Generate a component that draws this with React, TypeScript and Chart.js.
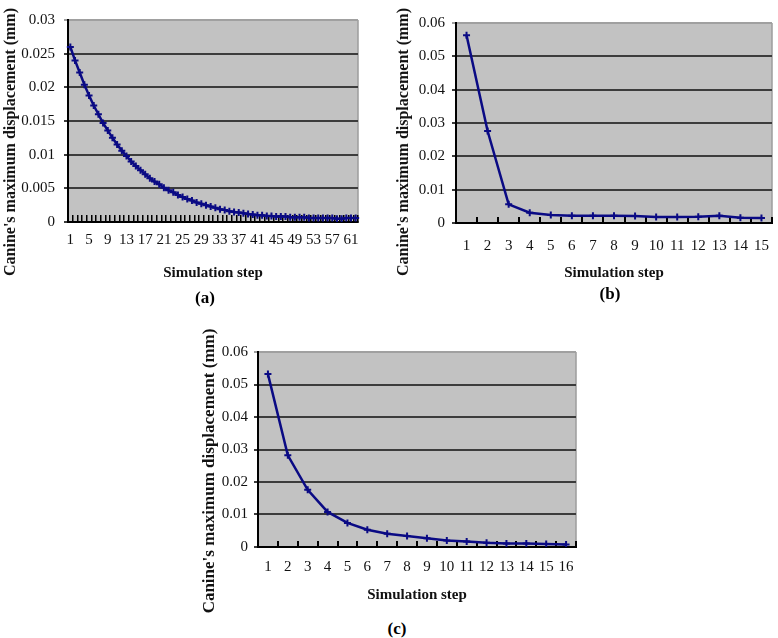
import React, { useEffect, useRef } from "react";
import { Chart, registerables } from "chart.js";

Chart.register(...registerables);

// ---- data ----
const valuesA: number[] = [
  0.026, 0.024, 0.0222, 0.0204, 0.0188, 0.0173, 0.016, 0.0147, 0.0136, 0.0125,
  0.0115, 0.0106, 0.0098, 0.009, 0.0083, 0.0077, 0.0071, 0.0065, 0.006, 0.0056,
  0.0051, 0.0047, 0.0044, 0.004, 0.0037, 0.0034, 0.0032, 0.0029, 0.0027, 0.0025,
  0.0023, 0.0021, 0.0019, 0.0018, 0.0016, 0.0015, 0.0014, 0.0013, 0.0012, 0.0011,
  0.001, 0.001, 0.0009, 0.0009, 0.0008, 0.0008, 0.0008, 0.0007, 0.0007, 0.0007,
  0.0007, 0.0006, 0.0006, 0.0006, 0.0006, 0.0006, 0.0006, 0.0005, 0.0005, 0.0006,
  0.0006, 0.0006,
];
const valuesB: number[] = [
  0.0563, 0.0276, 0.0056, 0.0031, 0.0024, 0.0022, 0.0022, 0.0022, 0.0021, 0.0018,
  0.0018, 0.0019, 0.0022, 0.0016, 0.0015,
];
const valuesC: number[] = [
  0.0532, 0.0282, 0.0176, 0.0108, 0.0074, 0.0053, 0.0041, 0.0034, 0.0027, 0.002,
  0.0017, 0.0013, 0.0011, 0.0011, 0.0009, 0.0008,
];
const stepsA: string[] = valuesA.map((_, i) => String(i + 1));
const stepsB: string[] = valuesB.map((_, i) => String(i + 1));
const stepsC: string[] = valuesC.map((_, i) => String(i + 1));

const yMaxA = 0.03;
const yStepA = 0.005;
const yMaxBC = 0.06;
const yStepBC = 0.01;

const xTitle = "Simulation step";
const yTitle = "Canine's maximum displacement (mm)";

const NAVY = "#0a0a84";
const PLOT_BG = "#c2c2c2";

const bgPlugin = {
  id: "plotBg",
  beforeDraw(chart: any) {
    const { ctx, chartArea } = chart;
    if (!chartArea) return;
    ctx.save();
    ctx.fillStyle = PLOT_BG;
    ctx.fillRect(chartArea.left, chartArea.top, chartArea.right - chartArea.left, chartArea.bottom - chartArea.top);
    ctx.strokeStyle = "#9c9c9c";
    ctx.lineWidth = 1.5;
    ctx.beginPath();
    ctx.moveTo(chartArea.right, chartArea.top);
    ctx.lineTo(chartArea.right, chartArea.bottom);
    ctx.stroke();
    ctx.restore();
  },
};

type PanelProps = {
  left: number;
  top: number;
  width: number;
  height: number;
  labels: string[];
  values: number[];
  yMax: number;
  yStep: number;
  labelEvery: number;
  padTop: number;
  padRight: number;
  yWidth: number;
  xHeight: number;
  xTickLen: number;
  xTickWidth: number;
  xLabelPad: number;
  xTitlePadBottom: number;
  yLabelPad: number;
};

function Panel(p: PanelProps) {
  const ref = useRef<HTMLCanvasElement | null>(null);
  useEffect(() => {
    if (!ref.current) return;
    const tickFont = { family: "'Liberation Serif', serif", size: 15 };
    const chart = new Chart(ref.current, {
      type: "line",
      data: {
        labels: p.labels,
        datasets: [
          {
            data: p.values,
            borderColor: NAVY,
            backgroundColor: NAVY,
            borderWidth: 2.5,
            pointStyle: "cross",
            pointRadius: 3.5,
            pointBorderWidth: 2,
            pointBorderColor: NAVY,
            tension: 0,
            fill: false,
          },
        ],
      },
      options: {
        responsive: false,
        maintainAspectRatio: false,
        animation: false,
        layout: { padding: { top: p.padTop, right: p.padRight, left: 0, bottom: 0 } },
        plugins: { legend: { display: false }, tooltip: { enabled: false } },
        scales: {
          x: {
            type: "category",
            offset: true,
            grid: {
              offset: true,
              drawOnChartArea: false,
              drawTicks: true,
              tickLength: -p.xTickLen,
              color: "#000",
              lineWidth: p.xTickWidth,
            },
            border: { display: true, color: "#000", width: 2 },
            ticks: {
              autoSkip: false,
              maxRotation: 0,
              minRotation: 0,
              padding: p.xLabelPad,
              color: "#111",
              font: tickFont,
              callback: (_v: any, i: number) => (i % p.labelEvery === 0 ? p.labels[i] : ""),
            },
            title: {
              display: true,
              text: xTitle,
              color: "#111",
              font: { family: "'Liberation Serif', serif", size: 15, weight: "bold" },
              padding: { top: 0, bottom: p.xTitlePadBottom },
            },
            afterFit: (s: any) => {
              s.height = p.xHeight;
              s.paddingLeft = 0;
              s.paddingRight = 0;
            },
          },
          y: {
            min: 0,
            max: p.yMax,
            grid: {
              color: (c: any) => (c.tick && Math.abs(c.tick.value - p.yMax) < 1e-9 ? "#a0a0a0" : "#3c3c3c"),
              lineWidth: 2,
              tickLength: 4,
            },
            border: { display: true, color: "#000", width: 2 },
            ticks: {
              stepSize: p.yStep,
              padding: p.yLabelPad,
              color: "#111",
              font: tickFont,
              callback: (v: any) => String(Number(Number(v).toFixed(4))),
            },
            afterFit: (s: any) => {
              s.width = p.yWidth;
            },
          },
        },
      },
      plugins: [bgPlugin],
    } as any);
    return () => chart.destroy();
  }, []);
  return (
    <canvas
      ref={ref}
      width={p.width}
      height={p.height}
      style={{ position: "absolute", left: p.left, top: p.top, width: p.width, height: p.height }}
    />
  );
}

function YTitle({ cx, cy, size }: { cx: number; cy: number; size: number }) {
  return (
    <div
      style={{
        position: "absolute",
        left: cx,
        top: cy,
        transform: "translate(-50%, -50%) rotate(-90deg)",
        whiteSpace: "nowrap",
        font: `bold ${size}px 'Liberation Serif', serif`,
        color: "#111",
        lineHeight: 1,
      }}
    >
      {yTitle}
    </div>
  );
}

function Letter({ cx, cy, text }: { cx: number; cy: number; text: string }) {
  return (
    <div
      style={{
        position: "absolute",
        left: cx,
        top: cy,
        transform: "translate(-50%, -50%)",
        whiteSpace: "nowrap",
        font: "bold 17px 'Liberation Serif', serif",
        color: "#000",
        lineHeight: 1,
      }}
    >
      {text}
    </div>
  );
}

export default function App() {
  return (
    <div
      style={{
        position: "absolute",
        left: 0,
        top: 0,
        width: 778,
        height: 638,
        background: "#fff",
        overflow: "hidden",
      }}
    >
      <Panel
        left={0}
        top={0}
        width={390}
        height={285}
        labels={stepsA}
        values={valuesA}
        yMax={yMaxA}
        yStep={yStepA}
        labelEvery={4}
        padTop={20}
        padRight={32}
        yWidth={68}
        xHeight={63}
        xTickLen={7}
        xTickWidth={1.5}
        xLabelPad={16}
        xTitlePadBottom={3}
        yLabelPad={9}
      />
      <Panel
        left={390}
        top={0}
        width={388}
        height={285}
        labels={stepsB}
        values={valuesB}
        yMax={yMaxBC}
        yStep={yStepBC}
        labelEvery={1}
        padTop={23}
        padRight={0}
        yWidth={66}
        xHeight={62}
        xTickLen={6}
        xTickWidth={2}
        xLabelPad={20}
        xTitlePadBottom={3}
        yLabelPad={7}
      />
      <Panel
        left={190}
        top={310}
        width={400}
        height={300}
        labels={stepsC}
        values={valuesC}
        yMax={yMaxBC}
        yStep={yStepBC}
        labelEvery={1}
        padTop={42}
        padRight={14}
        yWidth={68}
        xHeight={63}
        xTickLen={6}
        xTickWidth={2}
        xLabelPad={17}
        xTitlePadBottom={6}
        yLabelPad={6}
      />
      <YTitle cx={10} cy={142} size={16} />
      <YTitle cx={403} cy={142} size={16} />
      <YTitle cx={208} cy={471} size={17} />
      <Letter cx={205} cy={297} text="(a)" />
      <Letter cx={610} cy={293} text="(b)" />
      <Letter cx={397} cy={628} text="(c)" />
    </div>
  );
}
